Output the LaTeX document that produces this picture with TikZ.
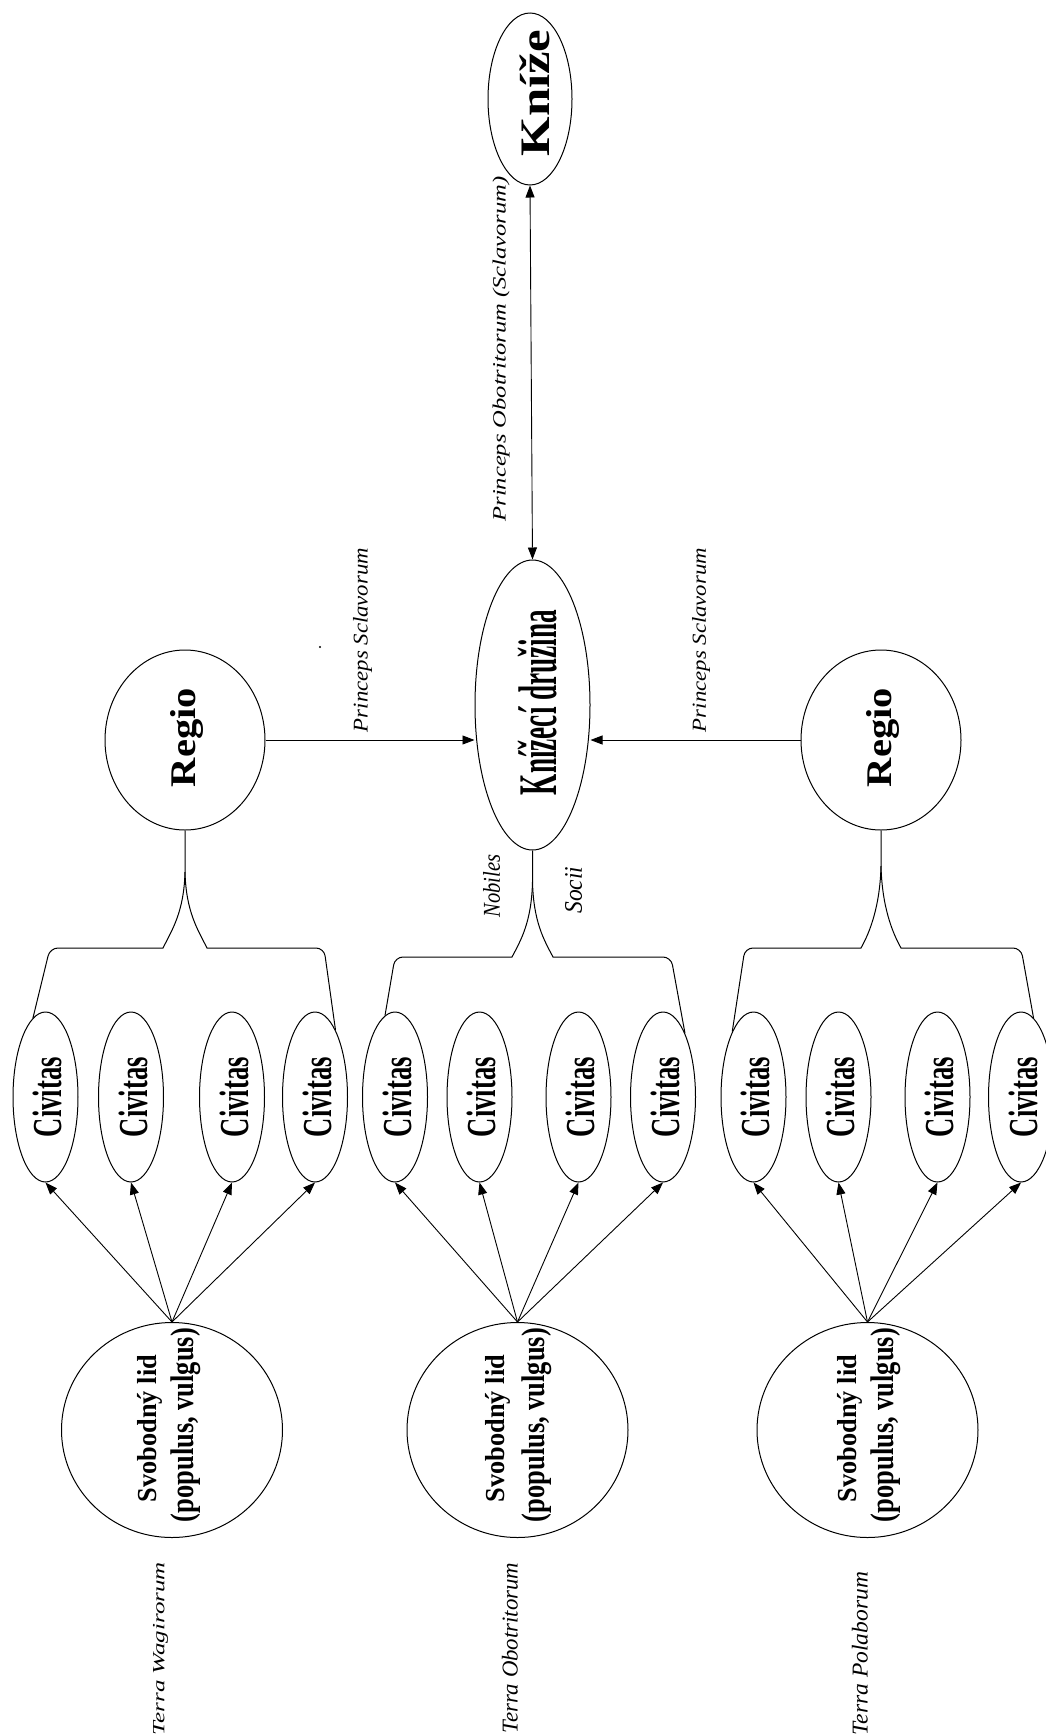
\documentclass[tikz,border=0pt]{standalone}
\usepackage{fontspec}
\setmainfont{Liberation Serif}
\usetikzlibrary{shapes.geometric,arrows.meta}
\newcommand{\rz}[3]{\resizebox*{#1pt}{#2pt}{#3}}
\begin{document}
\begin{tikzpicture}[x=1pt,y=-1pt,
  ell/.style={draw, ellipse, inner sep=0pt, line width=1pt},
  civ/.style={ell, minimum width=65pt, minimum height=170pt},
  svo/.style={ell, minimum width=221pt, minimum height=215pt},
  lbl/.style={inner sep=0pt, rotate=90},
  arr/.style={-{Triangle[length=12pt,width=9pt]}, line width=0.9pt},
  darr/.style={{Triangle[length=12pt,width=9pt]}-{Triangle[length=12pt,width=9pt]}, line width=0.9pt},
  brace/.style={line width=1pt}]
\useasboundingbox (0,0) rectangle (1045,1735);
\fill[white] (0,0) rectangle (1045,1735);

% main nodes
\node[ell, minimum width=84pt, minimum height=172pt] (k) at (530,99) {};
\node[lbl] (kt) at (535,93) {\rz{127}{30}{\bfseries Kníže}};
\node[ell, minimum width=115pt, minimum height=290pt] (kd) at (532.5,705) {};
\node[lbl] (kdt) at (537.5,702.5) {\rz{185}{39}{\bfseries Knížecí družina}};
\node[ell, minimum width=160pt, minimum height=180pt] (r1) at (185,740) {};
\node[lbl] (r1t) at (186.5,737.5) {\rz{99}{33}{\bfseries Regio}};
\node[ell, minimum width=160pt, minimum height=180pt] (r2) at (881,740) {};
\node[lbl] (r2t) at (882.5,737.5) {\rz{99}{33}{\bfseries Regio}};

% civitas
\foreach \n/\x in {11/45.5,12/131,13/232,14/315,21/395,22/479.5,23/578.5,24/663,31/753.5,32/838.5,33/937.5,34/1021}{
  \node[civ] (c\n) at (\x,1097) {};
  \node[lbl] (c\n t) at ([xshift=2pt]c\n.center) {\rz{80}{29}{\bfseries Civitas}};
}

% svobodny lid
\foreach \n/\x/\a/\b in {1/172/150/186, 2/517.5/497.5/537, 3/867.5/849.5/886}{
  \node[svo] (s\n) at (\x,1430) {};
  \node[lbl] (s\n a) at (\a,1428.5) {\rz{147}{25}{\bfseries Svobodný lid}};
  \node[lbl] (s\n b) at (\b,1425) {\rz{194}{30}{\bfseries (populus, vulgus)}};
}

% labels
\node[lbl] (lpo) at (501,349) {\rz{345}{17}{\itshape Princeps Obotritorum (Sclavorum)}};
\node[lbl] (lps1) at (362.5,640) {\rz{184}{19}{\itshape Princeps Sclavorum}};
\node[lbl] (lps2) at (701,640) {\rz{184}{18}{\itshape Princeps Sclavorum}};
\node[lbl] (lnob) at (491.5,886) {\rz{63}{17}{\itshape Nobiles}};
\node[lbl] (lsoc) at (573.5,890) {\rz{47}{17}{\itshape Socii}};
\node[lbl] (t1) at (160.5,1648.5) {\rz{173}{15}{\itshape Terra Wagirorum}};
\node[lbl] (t2) at (510,1648) {\rz{171}{16}{\itshape Terra Obotritorum}};
\node[lbl] (t3) at (860,1653.5) {\rz{163}{16}{\itshape Terra Polaborum}};
\fill (320,647) circle (1.2pt);

% arrows
\draw[darr] (k.south) -- (kd.north);
\draw[arr] (r1.east) -- (r1.east -| kd.west);
\draw[arr] (r2.west) -- (r2.west -| kd.east);
\foreach \g in {1,2,3}{
  \foreach \i in {1,2,3,4}{
    \draw[arr] (s\g.north) -- (c\g\i.south);
  }
}

% braces
\draw[brace] (r1.south) -- (185,872) .. controls (184,912) and (172,930) .. (163,948)
  [rounded corners=8pt] -- (50,948) -- (c11.99);
\draw[brace] (185,872) .. controls (186,912) and (198,930) .. (207,948)
  [rounded corners=8pt] -- (324,948) -- (c14.73);
\draw[brace] (kd.south) -- (532.5,882) .. controls (531.5,922) and (521,940) .. (512,957)
  [rounded corners=8pt] -- (395,957) -- (c21.97);
\draw[brace] (532.5,882) .. controls (533.5,922) and (544,940) .. (553,957)
  [rounded corners=8pt] -- (671,957) -- (c24.71);
\draw[brace] (r2.south) -- (881,866) .. controls (880,906) and (870,932) .. (861,948)
  [rounded corners=8pt] -- (745,948) -- (c31.108);
\draw[brace] (881,866) .. controls (882,906) and (892,932) .. (901,948)
  [rounded corners=8pt] -- (1021,948) -- (c34.81);
\end{tikzpicture}
\end{document}
